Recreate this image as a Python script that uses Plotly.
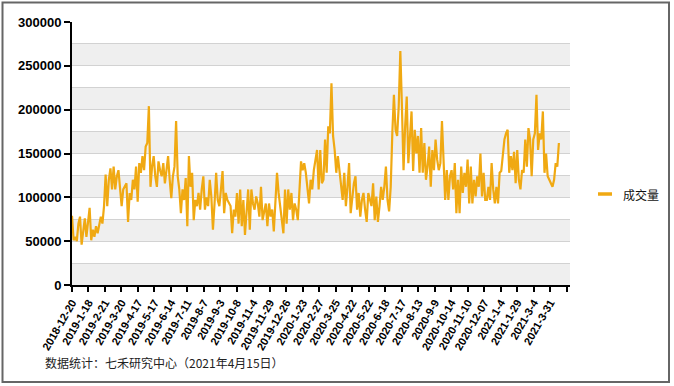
import plotly.graph_objects as go

# ---- data ----
series_name = "成交量"
source_note = "数据统计：七禾研究中心（2021年4月15日）"

tick_labels = ["2018-12-20", "2019-1-18", "2019-2-21", "2019-3-20", "2019-4-17", "2019-5-17",
               "2019-6-14", "2019-7-11", "2019-8-7", "2019-9-3", "2019-10-8", "2019-11-4",
               "2019-11-29", "2019-12-26", "2020-1-23", "2020-2-27", "2020-3-25", "2020-4-22",
               "2020-5-22", "2020-6-18", "2020-7-17", "2020-8-13", "2020-9-9", "2020-10-14",
               "2020-11-10", "2020-12-07", "2021-1-4", "2021-1-29", "2021-3-4", "2021-3-31"]
tick_step_days = 19          # trading days between labelled ticks
last_trading_day = 561       # index of the last trading day in the series

# volume, in thousands, sampled evenly along the trading days
volume_k = [
    79, 51, 55, 50, 70, 78, 46, 63, 76, 55, 70, 88, 51, 63, 55, 67, 59, 70, 78, 70,
    90, 126, 90, 120, 133, 109, 135, 109, 124, 131, 112, 90, 109, 112, 116, 72, 105, 97, 120, 109,
    135, 95, 139, 128, 147, 131, 158, 162, 204,
    112, 135, 147, 124, 112, 141, 131, 124, 139, 116, 131, 147, 120, 99, 124, 135, 187, 124, 109, 82,
    109, 97, 122, 67, 147, 112, 128, 74, 97, 90, 105, 86, 109, 124, 86, 100, 90, 120, 101, 63,
    93, 128, 97, 90, 109, 130, 82, 105, 97, 93, 90, 59,
    86, 78, 105, 70, 109, 67, 97, 57, 90, 109, 63, 109, 93, 86, 101, 93, 78, 112, 74, 86,
    93, 67, 93, 78, 86, 61, 97, 128, 105, 90, 70, 59, 109, 70, 109, 86, 105, 74, 93, 86,
    74, 105, 141, 131, 139, 128, 112, 93, 120, 109, 131, 143, 154,
    109, 154, 116, 120, 166, 128, 181, 173, 230, 170, 154, 128, 147, 128, 112, 97, 128, 90, 112, 139,
    82, 97, 116, 124, 86, 105, 78, 97, 105, 86, 72, 105, 97, 90, 116, 74, 101, 72, 90, 112,
    97, 112, 135, 97, 84, 112, 173, 217, 177, 170, 204, 267,
    204, 131, 181, 215, 139, 166, 198, 130, 177, 150, 170, 128, 179, 128, 162, 120, 135, 158, 112, 154,
    131, 166, 143, 131, 139, 187, 135, 97, 131, 97, 124, 131, 109, 139, 82, 120, 82, 135, 105, 128,
    112, 143, 93, 135, 93, 120, 101, 124, 112, 150, 101, 128, 97,
    97, 112, 97, 139, 109, 93, 112, 93, 128, 130, 150, 166, 173, 177, 128, 147, 131, 152, 116, 154,
    120, 109, 131, 128, 166, 135, 179, 166, 124, 166, 173, 217, 154, 173, 166, 198, 128, 150, 124, 120,
    116, 112, 120, 139, 135, 162,
]

volume = [v * 1000 for v in volume_k]
n = len(volume)
day_index = [i * last_trading_day / (n - 1) for i in range(n)]

# ---- layout geometry ----
W, H = 674, 386
L, R, T, B = 72, 570, 22, 285   # plot area in pixels
pw, ph = R - L, B - T


def px_x(p):
    return (p - L) / pw


def px_y(p):
    return (B - p) / ph


line_color = "#F0A912"
axis_font = dict(family="Liberation Sans, Arial, sans-serif", size=13, color="#000000", weight="bold")
cjk = "Noto Sans CJK SC, Liberation Sans, sans-serif"

fig = go.Figure()
fig.add_trace(go.Scatter(x=day_index, y=volume, mode="lines", name=series_name,
                         line=dict(color=line_color, width=2.2), showlegend=False))

shapes = []
# alternating bands
for lo in range(0, 300000, 50000):
    shapes.append(dict(type="rect", xref="paper", yref="y", x0=0, x1=1, y0=lo, y1=lo + 25000,
                       fillcolor="#EFEFEF", line=dict(width=0), layer="below"))
# outer frame
shapes.append(dict(type="rect", xref="paper", yref="paper",
                   x0=px_x(2.5), x1=px_x(669), y0=px_y(382), y1=px_y(2.5),
                   line=dict(color="#666666", width=2), fillcolor="rgba(0,0,0,0)", layer="above"))
# legend sample
shapes.append(dict(type="line", xref="paper", yref="paper",
                   x0=px_x(598), x1=px_x(612), y0=px_y(194), y1=px_y(194),
                   line=dict(color=line_color, width=3.5)))

annotations = [
    dict(text=series_name, xref="paper", yref="paper", x=px_x(621), y=px_y(194),
         xanchor="left", yanchor="middle", showarrow=False,
         font=dict(family=cjk, size=12, color="#111111")),
    dict(text=source_note, xref="paper", yref="paper", x=px_x(43), y=px_y(362),
         xanchor="left", yanchor="middle", showarrow=False,
         font=dict(family=cjk, size=12, color="#222222")),
]

tickvals = [tick_step_days * k for k in range(len(tick_labels) + 1)]
ticktext = tick_labels + [""]
x_max = 573.8

fig.update_layout(
    width=W, height=H,
    margin=dict(l=L, r=W - R, t=T, b=H - B, pad=0),
    paper_bgcolor="white", plot_bgcolor="white",
    shapes=shapes, annotations=annotations,
    xaxis=dict(range=[0, x_max], tickmode="array", tickvals=tickvals, ticktext=ticktext,
               tickangle=-60, tickfont=dict(family="Liberation Sans, Arial, sans-serif", size=11,
                                            color="#000000", weight="bold"),
               showline=True, linecolor="#000000", linewidth=2,
               ticks="outside", ticklen=5, tickwidth=2, tickcolor="#000000",
               showgrid=False, zeroline=False),
    yaxis=dict(range=[0, 300000], dtick=50000, tick0=0, tickformat="d",
               tickfont=axis_font,
               showline=True, linecolor="#000000", linewidth=2,
               ticks="outside", ticklen=6, tickwidth=2, tickcolor="#000000",
               showgrid=True, gridcolor="#D2D2D2", gridwidth=1,
               minor=dict(dtick=25000, showgrid=True, gridcolor="#D2D2D2", gridwidth=1),
               zeroline=False),
)

fig.write_html("out.html", config={"displayModeBar": False},
               post_script="document.body.style.margin='0px';")
